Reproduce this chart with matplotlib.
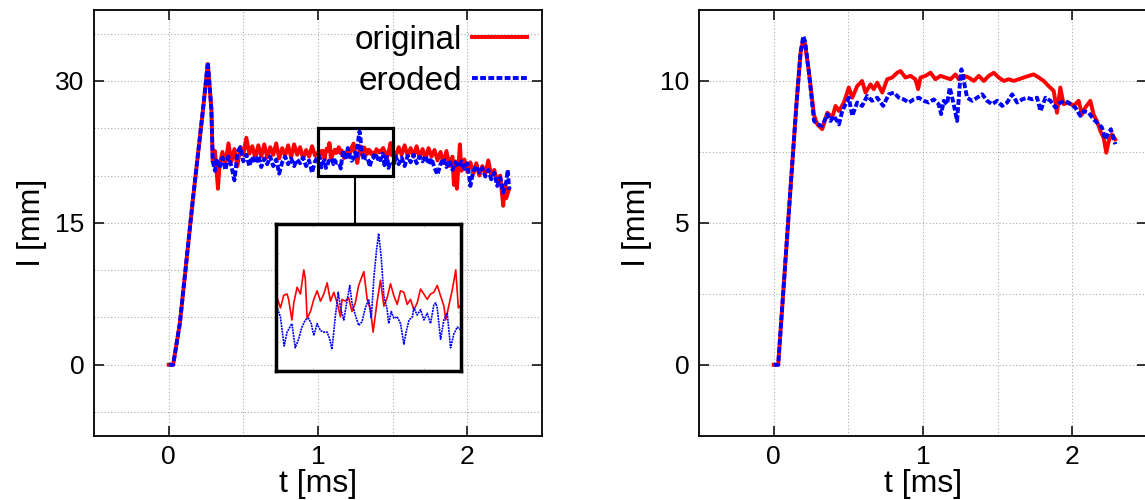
import numpy as np
import matplotlib
matplotlib.use('Agg')
import matplotlib.pyplot as plt
from matplotlib.ticker import MultipleLocator
from matplotlib.patches import Rectangle

plt.rcParams['font.family'] = ['Liberation Sans', 'DejaVu Sans']

# ---- left panel: original / eroded, l [mm] vs t [ms]
t_orig_L = [0.0, 0.03, 0.075, 0.163, 0.23, 0.262, 0.286, 0.295,
            0.31, 0.33, 0.34, 0.36, 0.38, 0.40, 0.42, 0.44, 0.46, 0.48, 0.50, 0.52,
            0.54, 0.56, 0.58, 0.60, 0.62, 0.64, 0.66, 0.68, 0.70, 0.72, 0.74, 0.76,
            0.78, 0.80, 0.82, 0.84, 0.86, 0.88, 0.90, 0.92, 0.94, 0.96, 0.98,
            1.004, 1.013, 1.022, 1.031, 1.035, 1.044, 1.049, 1.058, 1.067, 1.076,
            1.080, 1.085, 1.094, 1.103, 1.112, 1.121, 1.130, 1.139, 1.148, 1.157,
            1.166, 1.175, 1.179, 1.188, 1.197, 1.206, 1.215, 1.224, 1.238, 1.247,
            1.256, 1.263, 1.274, 1.283, 1.292, 1.301, 1.310, 1.319, 1.328, 1.337,
            1.346, 1.355, 1.364, 1.373, 1.382, 1.391, 1.400, 1.409, 1.418, 1.427,
            1.436, 1.445, 1.454, 1.459, 1.468, 1.477, 1.486, 1.493,
            1.51, 1.52, 1.54, 1.56, 1.58, 1.60, 1.62, 1.64, 1.66, 1.68, 1.70, 1.72,
            1.74, 1.76, 1.78, 1.80, 1.82, 1.84, 1.86, 1.88, 1.90, 1.91, 1.92, 1.93,
            1.94, 1.95, 1.96, 1.98, 2.00, 2.02, 2.04, 2.06, 2.08, 2.10, 2.12, 2.14,
            2.16, 2.18, 2.20, 2.22, 2.24, 2.25, 2.26, 2.28]
l_orig_L = [0.0, 0.0, 4.4, 17.6, 27.0, 31.8, 27.0, 21.5,
            22.6, 18.6, 21.0, 22.5, 21.2, 23.4, 21.5, 22.8, 21.0, 23.0, 22.2, 24.0,
            22.3, 23.1, 21.8, 23.2, 22.0, 23.3, 21.9, 23.0, 22.2, 23.4, 21.8, 22.9,
            22.1, 23.2, 21.9, 23.3, 22.2, 23.0, 21.8, 22.7, 22.0, 23.1, 22.1,
            22.50, 22.15, 22.58, 22.62, 22.44, 21.74, 22.32, 22.85, 22.62, 23.44,
            23.15, 21.80, 22.03, 22.44, 22.73, 22.38, 22.62, 23.00, 22.38, 22.68,
            22.32, 21.85, 22.44, 22.38, 22.50, 22.03, 22.32, 22.91, 23.38, 22.44,
            22.09, 21.33, 22.38, 23.09, 22.21, 22.50, 22.97, 22.56, 22.27, 22.73,
            22.68, 22.27, 22.44, 22.09, 22.32, 22.79, 22.62, 22.44, 22.62, 22.68,
            22.91, 22.56, 22.21, 21.74, 22.27, 22.79, 23.44, 22.15,
            22.4, 22.0, 23.0, 22.2, 23.2, 22.1, 22.9, 22.0, 23.1, 21.9, 22.8, 21.8,
            22.9, 22.0, 22.7, 21.6, 22.5, 21.3, 22.6, 21.0, 22.0, 19.0, 21.5, 18.6,
            21.0, 23.3, 20.5, 21.7, 20.4, 21.4, 20.2, 21.3, 20.0, 21.0, 20.2, 21.6,
            20.0, 20.6, 19.4, 20.0, 16.8, 18.9, 17.6, 18.6]

t_ero_L = [0.0, 0.03, 0.075, 0.163, 0.23, 0.262, 0.286, 0.295,
           0.31, 0.32, 0.34, 0.36, 0.38, 0.40, 0.42, 0.44, 0.45, 0.46, 0.48, 0.50,
           0.52, 0.54, 0.56, 0.58, 0.60, 0.62, 0.64, 0.66, 0.68, 0.70, 0.72, 0.74,
           0.76, 0.78, 0.80, 0.82, 0.84, 0.86, 0.88, 0.90, 0.92, 0.94, 0.96, 0.98,
           1.004, 1.013, 1.023, 1.031, 1.044, 1.053, 1.062, 1.071, 1.080, 1.089,
           1.096, 1.103, 1.112, 1.121, 1.130, 1.139, 1.146, 1.152, 1.161, 1.169,
           1.175, 1.184, 1.191, 1.200, 1.206, 1.215, 1.224, 1.233, 1.242, 1.251,
           1.258, 1.265, 1.272, 1.278, 1.285, 1.292, 1.301, 1.305, 1.312, 1.319,
           1.328, 1.337, 1.346, 1.353, 1.360, 1.369, 1.373, 1.382, 1.391, 1.400,
           1.409, 1.418, 1.427, 1.432, 1.436, 1.445, 1.454, 1.463, 1.472, 1.481,
           1.490,
           1.51, 1.52, 1.54, 1.56, 1.58, 1.60, 1.62, 1.64, 1.66, 1.68, 1.70, 1.72,
           1.74, 1.76, 1.78, 1.80, 1.82, 1.84, 1.86, 1.88, 1.90, 1.92, 1.94, 1.96,
           1.98, 2.00, 2.02, 2.04, 2.06, 2.08, 2.10, 2.12, 2.14, 2.16, 2.18, 2.20,
           2.22, 2.24, 2.26, 2.27, 2.28]
l_ero_L = [0.0, 0.0, 4.4, 17.6, 27.0, 32.0, 27.0, 21.5,
           20.5, 21.8, 20.8, 21.9, 20.6, 22.0, 21.0, 19.5, 20.8, 22.5, 23.0, 21.5,
           22.2, 21.0, 22.0, 21.3, 22.1, 20.9, 21.8, 21.2, 22.0, 21.0, 21.7, 20.2,
           21.4, 22.0, 21.2, 21.8, 21.0, 21.7, 21.3, 21.9, 21.0, 21.6, 20.3, 21.5,
           22.15, 21.85, 20.86, 21.33, 21.62, 20.80, 21.09, 21.50, 21.74, 21.80,
           21.62, 21.21, 21.62, 21.38, 21.33, 21.33, 21.09, 20.74, 21.85, 22.68,
           22.15, 21.74, 22.27, 22.91, 22.32, 21.91, 21.56, 21.68, 22.15, 22.44,
           21.80, 23.15, 24.08, 24.67, 23.85, 22.56, 22.09, 21.62, 22.03, 21.80,
           21.85, 21.62, 20.92, 21.38, 21.74, 21.85, 22.15, 21.91, 22.09, 21.74,
           21.97, 21.62, 22.27, 22.32, 22.15, 21.09, 21.74, 21.97, 20.80, 21.27,
           21.50,
           21.3, 22.0, 21.2, 21.9, 21.0, 22.1, 21.4, 22.2, 21.3, 22.0, 21.5, 22.1,
           21.2, 21.8, 20.8, 20.1, 21.2, 21.8, 20.9, 21.6, 20.6, 21.4, 20.9, 21.5,
           20.7, 21.3, 18.9, 20.5, 21.0, 20.3, 20.8, 19.9, 20.6, 19.6, 20.3, 18.9,
           19.8, 18.2, 19.3, 20.6, 18.5]

# ---- right panel
t_orig_R = [0.0, 0.03, 0.107, 0.154, 0.18, 0.198, 0.21, 0.236, 0.27,
            0.292, 0.325, 0.359, 0.392, 0.414, 0.437, 0.470, 0.503, 0.526, 0.559,
            0.592, 0.615, 0.648, 0.670, 0.693, 0.727, 0.760, 0.793, 0.827, 0.849,
            0.882, 0.916, 0.949, 0.967, 0.983, 1.016, 1.050, 1.083, 1.117, 1.150,
            1.184, 1.217, 1.239, 1.273, 1.306, 1.340, 1.373, 1.407, 1.440, 1.474,
            1.507, 1.541, 1.574, 1.607, 1.641, 1.674, 1.708, 1.741, 1.775, 1.808,
            1.841, 1.875, 1.897, 1.919, 1.941, 1.975, 2.008, 2.042, 2.064, 2.086,
            2.120, 2.142, 2.164, 2.187, 2.209, 2.227, 2.243, 2.265, 2.287]
l_orig_R = [0.0, 0.0, 5.8, 9.3, 11.0, 11.45, 11.3, 10.3, 8.8,
            8.47, 8.30, 8.88, 8.71, 9.12, 8.94, 9.24, 9.77, 9.41, 9.82,
            10.0, 9.59, 9.88, 9.71, 9.94, 9.59, 10.06, 10.12, 10.29, 10.35,
            10.12, 10.18, 10.06, 9.71, 10.12, 10.18, 10.29, 10.06, 10.18, 10.12,
            10.06, 10.23, 10.06, 10.18, 10.12, 10.0, 10.18, 10.0, 10.18, 10.29,
            10.12, 10.0, 10.06, 10.0, 10.06, 10.12, 10.18, 10.23, 10.12, 10.0,
            9.82, 9.65, 8.88, 9.77, 9.18, 9.24, 9.12, 9.30, 8.82, 9.06,
            9.30, 8.82, 8.59, 8.24, 8.0, 7.47, 7.88, 8.12, 7.94]

t_ero_R = [0.0, 0.03, 0.107, 0.154, 0.18, 0.198, 0.21, 0.236, 0.27,
           0.292, 0.325, 0.359, 0.381, 0.403, 0.437, 0.459, 0.481, 0.503, 0.526,
           0.559, 0.592, 0.626, 0.659, 0.693, 0.733, 0.771, 0.805, 0.838, 0.871,
           0.905, 0.938, 0.972, 1.005, 1.038, 1.072, 1.105, 1.121, 1.139, 1.161,
           1.179, 1.195, 1.210, 1.228, 1.246, 1.257, 1.273, 1.295, 1.329, 1.362,
           1.396, 1.429, 1.462, 1.496, 1.530, 1.563, 1.597, 1.630, 1.664, 1.697,
           1.731, 1.764, 1.786, 1.820, 1.853, 1.887, 1.920, 1.953, 1.987, 2.020,
           2.053, 2.075, 2.109, 2.142, 2.176, 2.198, 2.220, 2.243, 2.258, 2.287]
l_ero_R = [0.0, 0.0, 5.8, 9.3, 11.0, 11.58, 11.4, 10.3, 8.59,
           8.47, 8.42, 8.83, 8.59, 8.77, 8.47, 8.94, 9.18, 9.41, 8.77,
           9.24, 9.12, 9.47, 9.30, 9.41, 9.12, 9.53, 9.59, 9.41, 9.35,
           9.24, 9.35, 9.41, 9.30, 9.24, 9.35, 9.18, 8.83, 9.30, 9.18,
           9.77, 9.41, 9.06, 8.59, 9.88, 10.41, 10.0, 9.41, 9.30, 9.41,
           9.53, 9.30, 9.18, 9.30, 9.12, 9.24, 9.53, 9.24, 9.35, 9.41,
           9.35, 9.41, 8.94, 9.41, 9.30, 9.06, 9.24, 9.30, 9.18, 9.06,
           8.77, 8.94, 8.88, 8.65, 8.47, 8.36, 7.94, 8.18, 8.30, 7.77]


def style_axes(ax, ymaj, ymin):
    ax.set_xlim(-0.5, 2.5)
    ax.xaxis.set_major_locator(MultipleLocator(1))
    ax.xaxis.set_minor_locator(MultipleLocator(0.5))
    ax.yaxis.set_major_locator(MultipleLocator(ymaj))
    ax.yaxis.set_minor_locator(MultipleLocator(ymin))
    ax.grid(which='both', color='#aaaaaa', linestyle=(0, (1, 2)), linewidth=0.8)
    ax.tick_params(which='major', direction='in', length=7, width=1.1,
                   top=True, right=True, labelsize=19, pad=7)
    ax.tick_params(which='minor', length=0)
    for sp in ax.spines.values():
        sp.set_linewidth(1.3)
    ax.set_xlabel('t [ms]', fontsize=23, labelpad=0)
    ax.set_ylabel('l [mm]', fontsize=23, labelpad=6)


fig = plt.figure(figsize=(11.45, 5.0), dpi=100)
ax1 = fig.add_axes([0.0821, 0.1286, 0.3913, 0.8514])
ax2 = fig.add_axes([0.6105, 0.1286, 0.3913, 0.8514])

lw = 2.8
dash = (1.5, 0.6)

ax1.plot(t_orig_L, l_orig_L, color='#ff0000', linewidth=lw, label='original')
ax1.plot(t_ero_L, l_ero_L, color='#0000ff', linewidth=lw, dashes=dash, label='eroded')
ax1.set_ylim(-7.5, 37.5)
style_axes(ax1, 15, 5)
ax1.legend(loc='upper right', frameon=False, fontsize=24, markerfirst=False,
           handlelength=1.65, handletextpad=0.3, labelspacing=0.3,
           borderaxespad=0.25, borderpad=0.2)

# zoom box and connector
ax1.add_patch(Rectangle((1.0, 20.0), 0.5, 5.0, fill=False, edgecolor='black',
                        linewidth=2.3, zorder=5))
ax1.plot([1.25, 1.25], [20.0, 14.9], color='black', linewidth=1.5, zorder=5)

axin = ax1.inset_axes([0.716, -0.7, 1.241, 15.6], transform=ax1.transData)
axin.plot(t_orig_L, l_orig_L, color='#ff0000', linewidth=1.2)
axin.plot(t_ero_L, l_ero_L, color='#0000ff', linewidth=1.2, dashes=(1.2, 0.5))
axin.set_xlim(1.0, 1.5)
axin.set_ylim(20.0, 25.0)
axin.set_xticks([1.1, 1.4])
axin.set_yticks([21, 22, 23, 24])
axin.tick_params(direction='in', length=2, width=0.5, top=True, right=True,
                 labelbottom=False, labelleft=False, color='#bbbbbb')
for sp in axin.spines.values():
    sp.set_linewidth(2.5)
axin.set_facecolor('white')
axin.set_zorder(6)

ax2.plot(t_orig_R, l_orig_R, color='#ff0000', linewidth=lw)
ax2.plot(t_ero_R, l_ero_R, color='#0000ff', linewidth=lw, dashes=dash)
ax2.set_ylim(-2.5, 12.5)
style_axes(ax2, 5, 2.5)

fig.savefig('out.png', dpi=100)
